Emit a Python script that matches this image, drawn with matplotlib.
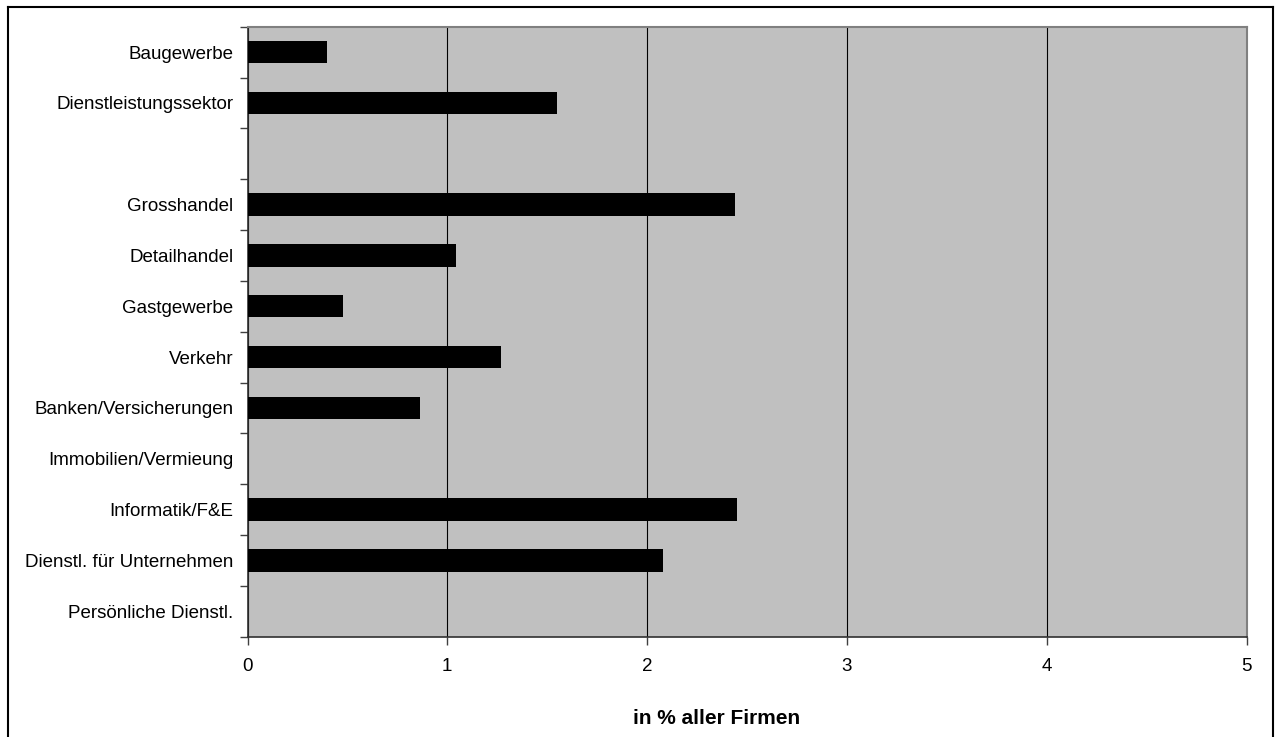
import numpy as np
import matplotlib
matplotlib.use("Agg")
import matplotlib.pyplot as plt

plt.rcParams['font.family'] = ['Liberation Sans', 'DejaVu Sans']

categories = ["Baugewerbe", "Dienstleistungssektor", "", "Grosshandel", "Detailhandel",
              "Gastgewerbe", "Verkehr", "Banken/Versicherungen", "Immobilien/Vermieung",
              "Informatik/F&E", "Dienstl. für Unternehmen", "Persönliche Dienstl."]
values = [0.40, 1.55, 0.0, 2.44, 1.045, 0.48, 1.27, 0.865, 0.0, 2.45, 2.08, 0.0]
xticks = [0, 1, 2, 3, 4, 5]
xlabel = "in % aller Firmen"

W, H = 1277, 737
fig = plt.figure(figsize=(W / 100, H / 100), dpi=100)
fig.patch.set_facecolor("white")

# outer chart border (left, top, right; bottom is clipped)
fig.add_artist(plt.Line2D([7.5 / W, 7.5 / W], [0, 1 - 7 / H], transform=fig.transFigure,
                          color="black", lw=1.5))
fig.add_artist(plt.Line2D([7.5 / W, 1273 / W], [1 - 7 / H, 1 - 7 / H], transform=fig.transFigure,
                          color="black", lw=1.5))
fig.add_artist(plt.Line2D([1273 / W, 1273 / W], [0, 1 - 7 / H], transform=fig.transFigure,
                          color="black", lw=1.5))

ax_l, ax_r, ax_t, ax_b = 247.5, 1246.5, 26.7, 636.7
ax = fig.add_axes([ax_l / W, 1 - ax_b / H, (ax_r - ax_l) / W, (ax_b - ax_t) / H])
ax.set_facecolor("#C0C0C0")

n = len(categories)
y = np.arange(n)
ax.barh(y, values, height=0.44, color="black", edgecolor="none", zorder=3)

ax.set_xlim(0, 5)
ax.set_ylim(n - 0.5, -0.5)

ax.set_xticks(xticks)
ax.set_xticklabels([str(t) for t in xticks], fontsize=13.5)
ax.xaxis.grid(True, color="black", lw=0.8, zorder=1)
ax.set_axisbelow(True)

ax.set_yticks(np.arange(-0.5, n, 1.0))
ax.set_yticklabels([])
ax.set_yticks(y, minor=True)
ax.set_yticklabels(categories, minor=True, fontsize=13.5)
ax.tick_params(axis="y", which="minor", length=0, pad=10)
ax.tick_params(axis="y", which="major", length=6, width=1, color="#404040", direction="out")
ax.tick_params(axis="x", which="major", length=6, width=1, color="#404040", direction="out", pad=9)

for s in ["top", "right"]:
    ax.spines[s].set_color("#808080")
    ax.spines[s].set_linewidth(1.5)
for s in ["left", "bottom"]:
    ax.spines[s].set_color("#303030")
    ax.spines[s].set_linewidth(1.2)

fig.text(717 / W, 1 - 718 / H, xlabel, ha="center", va="center", fontsize=15, fontweight="bold")

fig.savefig("out.png", dpi=100)
